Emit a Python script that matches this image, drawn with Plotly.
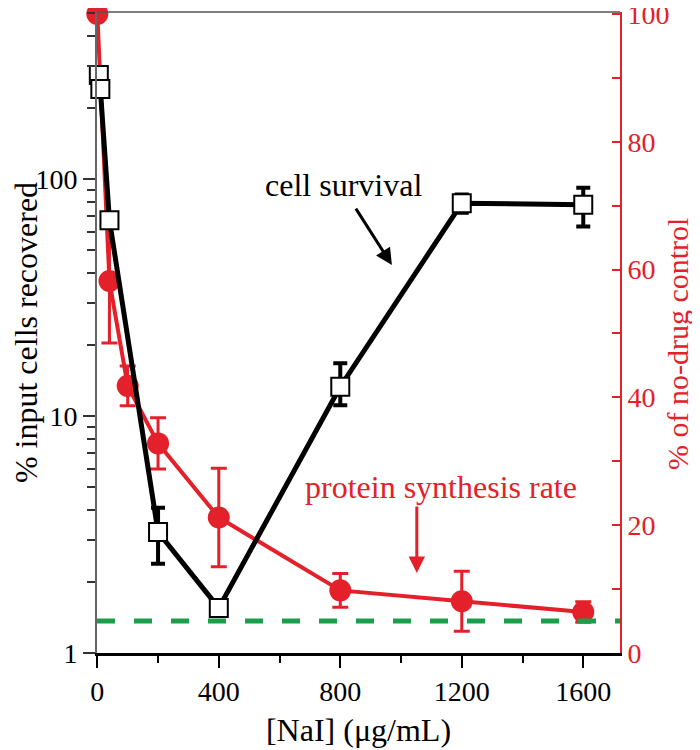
import plotly.graph_objects as go

# ---- data ----
nai_survival = [5, 10, 40, 200, 400, 800, 1200, 1600]
cell_survival = [275, 240, 67, 3.24, 1.55, 13.3, 79, 78]
survival_err_plus = [20, 10, 3, 0.86, 0.08, 3.4, 7, 14]
survival_err_minus = [20, 10, 3, 0.86, 0.08, 2.2, 7, 15]

nai_protein = [0, 40, 100, 200, 400, 800, 1200, 1600]
protein_rate = [100, 58.2, 41.8, 32.8, 21.2, 9.8, 8.1, 6.4]
protein_err = [0, 9.7, 3.1, 4.0, 7.7, 2.65, 4.7, 1.6]

background_level = 5  # % of no-drug control (dashed line)

x_ticks = [0, 400, 800, 1200, 1600]
x_minor = [200, 600, 1000, 1400]
left_ticks = [1, 10, 100]
left_minor = [2, 3, 4, 5, 6, 7, 8, 9, 20, 30, 40, 50, 60, 70, 80, 90, 200, 300, 400, 500]
right_ticks = [0, 20, 40, 60, 80, 100]

RED = "#e4202a"
GREEN = "#1a9e4a"
FONT = "Liberation Serif, Times New Roman, serif"

fig = go.Figure()

# protein synthesis (right axis -> yaxis 'y')
fig.add_trace(go.Scatter(
    x=nai_protein, y=protein_rate, yaxis="y", mode="lines+markers",
    line=dict(color=RED, width=4),
    marker=dict(symbol="circle", size=22, color=RED),
    error_y=dict(type="data", array=protein_err, visible=True,
                 color=RED, thickness=3, width=8),
    cliponaxis=False, showlegend=False,
))

# cell survival (left log axis -> yaxis 'y2', overlaying)
fig.add_trace(go.Scatter(
    x=nai_survival, y=cell_survival, yaxis="y2", mode="lines+markers",
    line=dict(color="black", width=5),
    marker=dict(symbol="square", size=18, color="white",
                line=dict(color="black", width=2)),
    error_y=dict(type="data", symmetric=False, array=survival_err_plus,
                 arrayminus=survival_err_minus, visible=True,
                 color="black", thickness=4, width=7),
    cliponaxis=False, showlegend=False,
))

fig.update_layout(
    width=700, height=750,
    margin=dict(l=89, r=88, t=4, b=105, autoexpand=False),
    paper_bgcolor="white", plot_bgcolor="white",
    font=dict(family=FONT, size=28, color="black"),
    xaxis=dict(
        range=[-1, 1721], showgrid=False, zeroline=False, automargin=False,
        tickmode="array", tickvals=x_ticks,
        ticks="outside", ticklen=12, tickwidth=2, tickcolor="black",
        showline=True, linecolor="black", linewidth=2.5,
        minor=dict(tickmode="array", tickvals=x_minor, ticks="outside",
                   ticklen=7, tickwidth=2, tickcolor="black"),
        tickfont=dict(size=28, family=FONT),
        title=dict(text="[NaI] (μg/mL)", font=dict(size=32, family=FONT), standoff=13),
    ),
    yaxis=dict(
        side="right", range=[0, 100.3], showgrid=False, zeroline=False, automargin=False,
        tickmode="array", tickvals=right_ticks, ticktext=[str(v) for v in right_ticks],
        ticklabeloverflow="allow",
        ticks="inside", ticklen=8, tickwidth=2, tickcolor=RED,
        showline=True, linecolor=RED, linewidth=2,
        minor=dict(dtick=10, ticks="inside", ticklen=8, tickwidth=2, tickcolor=RED),
        tickfont=dict(size=28, family=FONT, color=RED),
    ),
    yaxis2=dict(
        type="log", range=[0, 2.705], overlaying="y", side="left",
        showgrid=False, zeroline=False, automargin=False,
        tickmode="array", tickvals=left_ticks, ticktext=["1", "10", "100"],
        ticklabeloverflow="allow",
        ticks="outside", ticklen=12, tickwidth=2, tickcolor="#333333",
        showline=True, linecolor="#666666", linewidth=2,
        minor=dict(tickmode="array", tickvals=left_minor, ticks="outside",
                   ticklen=8, tickwidth=2, tickcolor="#333333"),
        tickfont=dict(size=28, family=FONT),
        title=dict(text="% input cells recovered", font=dict(size=32, family=FONT),
                   standoff=0),
    ),
    shapes=[
        dict(type="line", xref="paper", x0=0, x1=1, yref="y", y0=background_level,
             y1=background_level, line=dict(color=GREEN, width=5, dash="18px,19px"),
             layer="above"),
        dict(type="line", xref="paper", x0=0, x1=1, yref="paper", y0=1, y1=1,
             line=dict(color="#555555", width=1.5), layer="above"),
    ],
    annotations=[
        dict(x=1.109, y=0.482, xref="paper", yref="paper", text="% of no-drug control",
             textangle=-90, showarrow=False, xanchor="center", yanchor="middle",
             font=dict(size=30, family=FONT, color=RED)),
        dict(x=809, y=1.975, xref="x", yref="y2", text="cell survival",
             showarrow=False, font=dict(size=32, family=FONT, color="black")),
        dict(x=970, y=1.637, xref="x", yref="y2", ax=-37, ay=-58,
             axref="pixel", ayref="pixel", text="", showarrow=True,
             arrowhead=2, arrowsize=1.1, arrowwidth=3, arrowcolor="black"),
        dict(x=1131, y=25.9, xref="x", yref="y", text="protein synthesis rate",
             showarrow=False, font=dict(size=32, family=FONT, color=RED)),
        dict(x=1052, y=12.5, xref="x", yref="y", ax=0, ay=-68,
             text="", showarrow=True,
             arrowhead=2, arrowsize=1.1, arrowwidth=3, arrowcolor=RED),
    ],
)

fig.write_html("out.html")
